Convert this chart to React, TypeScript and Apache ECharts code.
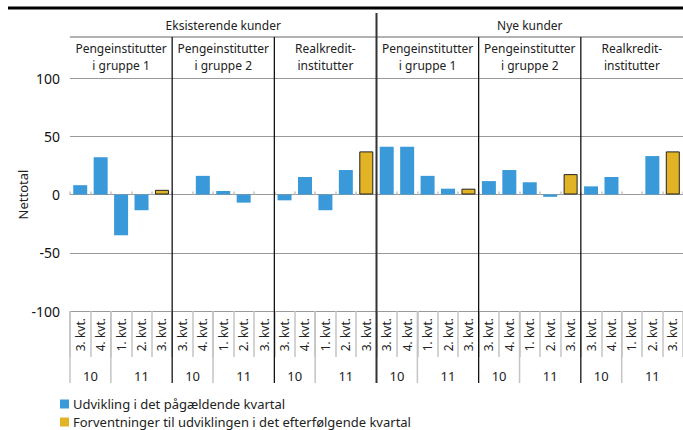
import React, { useEffect, useRef } from "react";
import * as echarts from "echarts";

const segments = ["Eksisterende kunder", "Nye kunder"];
const groups = [
  "Pengeinstitutter\ni gruppe 1",
  "Pengeinstitutter\ni gruppe 2",
  "Realkredit-\ninstitutter",
];
const quarters = ["3. kvt.", "4. kvt.", "1. kvt.", "2. kvt.", "3. kvt."];
const years = [
  { label: "10", span: 2 },
  { label: "11", span: 3 },
];
const yTicks = [-100, -50, 0, 50, 100];

// Udvikling i det pågældende kvartal
const udvikling: (number | null)[] = [
  8, 32, -35, -13.5, null,
  null, 16, 3, -7, null,
  -5, 15, -13.5, 21, null,
  41, 41, 16, 5, null,
  11.5, 21, 10.5, -2, null,
  7, 15, null, 33, null,
];
// Forventninger til udviklingen i det efterfølgende kvartal
const forventninger: (number | null)[] = [
  null, null, null, null, 4,
  null, null, null, null, null,
  null, null, null, null, 37,
  null, null, null, null, 5,
  null, null, null, null, 17.5,
  null, null, null, null, 37,
];

const FONT = '"Noto Sans", sans-serif';
const BLUE = "#3a9ad9";
const YELLOW = "#e2b324";

export default function App() {
  const ref = useRef<HTMLDivElement>(null);
  useEffect(() => {
    document.body.style.margin = "0";
    const chart = echarts.init(ref.current!, null, { renderer: "svg" });
    const nGroups = segments.length * groups.length;
    const xData: string[] = [];
    for (let g = 0; g < nGroups; g++) quarters.forEach((q, i) => xData.push(q + "|" + g + "_" + i));
    const toArr = (a: (number | null)[]) => a.map((v) => (v === null ? "-" : v));

    chart.setOption({
      animation: false,
      textStyle: { fontFamily: FONT },
      grid: { left: 70, top: 78, width: 616, height: 233 },
      xAxis: [
        {
          type: "category",
          data: xData,
          position: "bottom",
          axisLine: { show: false, onZero: false },
          axisTick: { show: true, interval: 0, length: 46, lineStyle: { color: "#c4c4c4", width: 1.5 } },
          axisLabel: {
            interval: 0,
            rotate: 90,
            fontSize: 12,
            color: "#222",
            margin: 7,
            formatter: (v: string) => v.split("|")[0],
          },
        },
        {
          type: "category",
          data: xData,
          position: "bottom",
          axisLine: { show: true, onZero: true, lineStyle: { color: "#999", width: 1.2 } },
          axisTick: { show: true, inside: true, interval: 0, length: 3, lineStyle: { color: "#c4c4c4", width: 1.5 } },
          axisLabel: { show: false },
        },
      ],
      yAxis: {
        type: "value",
        min: -100,
        max: 100,
        interval: 50,
        axisLine: { show: false },
        axisTick: { show: false },
        axisLabel: { fontSize: 14, color: "#111", margin: 10 },
        splitLine: { lineStyle: { color: "#999", width: 1.2 } },
      },
      legend: {
        orient: "vertical",
        left: 60,
        top: 397,
        height: 40,
        padding: 0,
        itemWidth: 9,
        itemHeight: 9,
        itemGap: 4,
        icon: "rect",
        itemStyle: { borderWidth: 0 },
        textStyle: { fontSize: 13, lineHeight: 14, color: "#222", fontFamily: FONT, padding: [0, 0, 0, -1] },
        data: ["Udvikling i det pågældende kvartal", "Forventninger til udviklingen i det efterfølgende kvartal"],
      },
      series: [
        {
          name: "Udvikling i det pågældende kvartal",
          type: "bar",
          data: toArr(udvikling),
          barWidth: 14,
          barGap: "-100%",
          itemStyle: { color: BLUE },
        },
        {
          name: "Forventninger til udviklingen i det efterfølgende kvartal",
          type: "bar",
          data: toArr(forventninger),
          barWidth: 14,
          barGap: "-100%",
          itemStyle: { color: YELLOW, borderColor: "#222", borderWidth: 1 },
        },
      ],
    });

    const c0 = chart.convertToPixel({ xAxisIndex: 0 }, 0) as number;
    const c1 = chart.convertToPixel({ xAxisIndex: 0 }, 1) as number;
    const cw = c1 - c0;
    const b = (i: number) => c0 - cw / 2 + i * cw;
    const yTop = chart.convertToPixel({ yAxisIndex: 0 }, yTicks[yTicks.length - 1]) as number;
    const yBot = chart.convertToPixel({ yAxisIndex: 0 }, yTicks[0]) as number;
    const q = quarters.length;
    const total = xData.length;
    const headerLineY = 37;
    const bottomY = yBot + 72;

    const els: any[] = [];
    const line = (x1: number, y1: number, x2: number, y2: number, stroke: string, lw: number) =>
      els.push({ type: "line", silent: true, z: 10, shape: { x1, y1, x2, y2 }, style: { stroke, lineWidth: lw } });
    const text = (x: number, y: number, t: string, size: number, lh = 17) =>
      els.push({
        type: "text",
        silent: true,
        x,
        y,
        style: { text: t, fill: "#222", fontSize: size, fontFamily: FONT, align: "center", verticalAlign: "middle", lineHeight: lh },
      });

    line(8, 8, 690, 8, "#000", 3);
    line(b(0), headerLineY, b(total) + 5, headerLineY, "#999", 1.5);
    segments.forEach((s, si) => {
      const start = si * groups.length * q;
      const end = start + groups.length * q;
      text((b(start) + b(end)) / 2, 25, s, 12);
    });
    for (let g = 0; g < nGroups; g++) {
      const start = g * q;
      text((b(start) + b(start + q)) / 2, 56.5, groups[g % groups.length], 12);
      let k = start;
      years.forEach((yr, yi) => {
        text((b(k) + b(k + yr.span)) / 2, yBot + 65, yr.label, 13);
        if (yi > 0) line(b(k), yBot, b(k), bottomY, "#c4c4c4", 1.5);
        k += yr.span;
      });
    }
    line(b(0), yBot, b(0), bottomY, "#c4c4c4", 1.5);
    for (let g = 1; g < nGroups; g++) {
      const x = b(g * q);
      if (g % groups.length === 0) line(x, 13, x, bottomY, "#333", 2);
      else line(x, headerLineY, x, bottomY, "#000", 1.2);
    }
    els.push({
      type: "text",
      silent: true,
      x: 23,
      y: (yTop + yBot) / 2,
      rotation: Math.PI / 2,
      style: { text: "Nettotal", fill: "#222", fontSize: 13, fontFamily: FONT, align: "center", verticalAlign: "middle" },
    });
    chart.setOption({ graphic: els });

    return () => chart.dispose();
  }, []);
  return <div ref={ref} style={{ width: 683, height: 430 }} />;
}
